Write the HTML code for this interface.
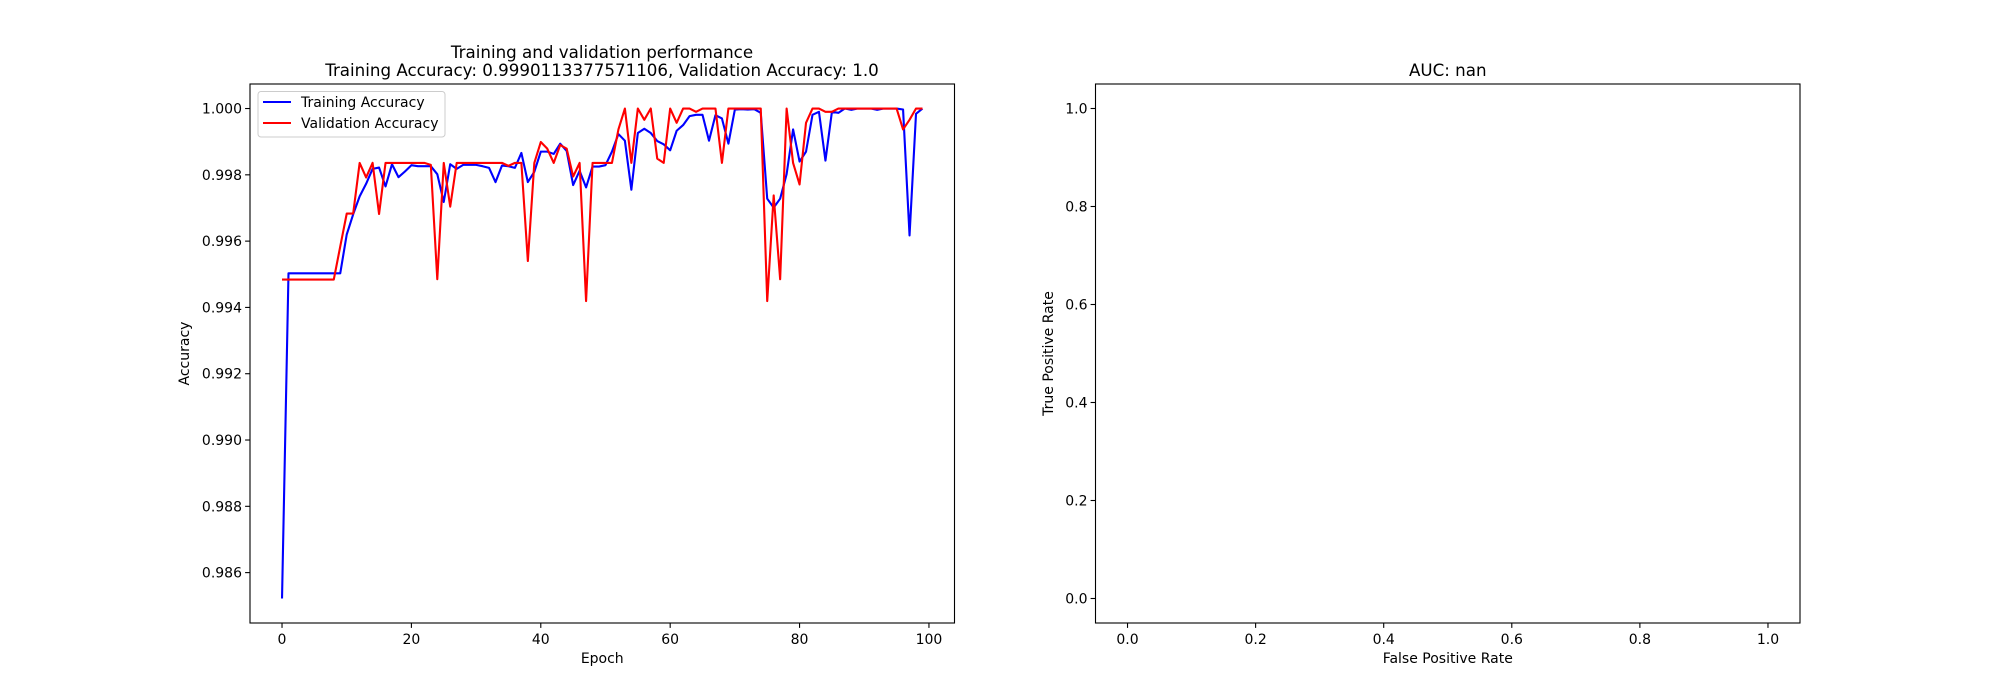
<!DOCTYPE html>
<html><head><meta charset="utf-8"><style>
html,body{margin:0;padding:0;background:#fff;}
svg{display:block;font-family:"DejaVu Sans","Liberation Sans",sans-serif;}
</style></head><body>
<svg id="fig" width="2000" height="700" viewBox="0 0 2000 700" xmlns="http://www.w3.org/2000/svg">
<rect width="2000" height="700" fill="#fff"/>
<g id="ax1"></g>
<g id="ax2"></g>
</svg>
<script>
const epochs = Array.from({length:100},(_,i)=>i);
const trainAcc = [0.98522,0.99503,0.99503,0.99503,0.99503,0.99503,0.99503,0.99503,0.99503,0.99503,
0.9962,0.99681,0.99735,0.99773,0.99818,0.99822,0.99765,0.99832,0.99793,0.9981,
0.99829,0.99826,0.99826,0.99826,0.99802,0.99718,0.99832,0.99818,0.9983,0.9983,
0.9983,0.99826,0.99821,0.99778,0.99828,0.99826,0.99821,0.99866,0.99778,0.99809,
0.9987,0.9987,0.99863,0.99894,0.99872,0.99769,0.99812,0.99762,0.99825,0.99825,
0.99829,0.9987,0.99923,0.99903,0.99755,0.99926,0.99939,0.99926,0.99902,0.99892,
0.99874,0.99933,0.9995,0.99977,0.99981,0.99981,0.99903,0.9998,0.9997,0.99894,
0.99997,0.99998,0.99997,0.99998,0.99987,0.99728,0.99701,0.99728,0.99802,0.99937,
0.9984,0.9987,0.99981,0.9999,0.99843,0.9999,0.99987,1.0,0.99996,1.0,
1.0,1.0,0.99996,1.0,1.0,1.0,0.99997,0.99617,0.99984,1.0];
const valAcc = [0.99484,0.99484,0.99484,0.99484,0.99484,0.99484,0.99484,0.99484,0.99484,0.99584,
0.99683,0.99683,0.99836,0.99792,0.99836,0.99682,0.99836,0.99836,0.99836,0.99836,
0.99836,0.99836,0.99836,0.9983,0.99485,0.99836,0.99704,0.99836,0.99836,0.99836,
0.99836,0.99836,0.99836,0.99836,0.99836,0.99827,0.99836,0.99836,0.9954,0.99836,
0.99899,0.99879,0.99836,0.9989,0.99879,0.99795,0.99836,0.99419,0.99836,0.99836,
0.99836,0.99836,0.99937,1.0,0.99836,1.0,0.99966,1.0,0.99849,0.99836,
1.0,0.99957,1.0,1.0,0.9999,1.0,1.0,1.0,0.99836,1.0,
1.0,1.0,1.0,1.0,1.0,0.99419,0.99738,0.99485,1.0,0.99836,
0.99771,0.99957,1.0,1.0,0.9999,0.9999,1.0,1.0,1.0,1.0,
1.0,1.0,1.0,1.0,1.0,1.0,0.99937,0.99966,1.0,1.0];
const xTicks1 = [0,20,40,60,80,100];
const yTicks1 = [0.986,0.988,0.990,0.992,0.994,0.996,0.998,1.000];
const xTicks2 = [0.0,0.2,0.4,0.6,0.8,1.0];
const yTicks2 = [0.0,0.2,0.4,0.6,0.8,1.0];

const NS="http://www.w3.org/2000/svg";
function mk(parent,tag,attrs,text){const e=document.createElementNS(NS,tag);for(const k in attrs)e.setAttribute(k,attrs[k]);if(text!==undefined)e.textContent=text;parent.appendChild(e);return e;}

function lin(d0,d1,r0,r1){return v=>r0+(v-d0)/(d1-d0)*(r1-r0);}

function drawAxes(g,box,xs,ys,xt,yt,xfmt,yfmt,xlabel,ylabel,ylabX){
  const [L,T,R,B]=box;
  xt.forEach(v=>{const x=xs(v);
    const t=mk(g,'line',{x1:x,y1:B,x2:x,y2:B+4.9,stroke:'#000','stroke-width':1.1});
    
    
    const l=mk(g,'text',{x:x,y:B+21,'font-size':14,'text-anchor':'middle'},xfmt(v));
    
    
  });
  yt.forEach(v=>{const y=ys(v);
    const t=mk(g,'line',{x1:L-4.9,y1:y,x2:L,y2:y,stroke:'#000','stroke-width':1.1});
    
    
    const l=mk(g,'text',{x:L-8,y:y+5,'font-size':14,'text-anchor':'end'},yfmt(v));
    
    
  });
  const xl=mk(g,'text',{x:(L+R)/2,y:B+40,'font-size':14,'text-anchor':'middle'},xlabel);
  
  
  const yl=mk(g,'text',{x:ylabX,y:(T+B)/2,'font-size':14,'text-anchor':'middle',transform:`rotate(-90 ${ylabX} ${(T+B)/2})`},ylabel);
  
  
}

// Axes 1
const g1=document.getElementById('ax1');
const box1=[250,84,954.5,623];
const x1=lin(-4.95,103.95,box1[0],box1[2]);
const y1=lin(0.98448,1.00074,box1[3],box1[1]);
function series(vals,color,name){
  const d=vals.map((v,i)=>(i?'L':'M')+x1(epochs[i]).toFixed(2)+' '+y1(v).toFixed(2)).join(' ');
  const p=mk(g1,'path',{d:d,fill:'none',stroke:color,'stroke-width':2.1,'stroke-linejoin':'round'});
  
  
}
series(trainAcc,'#0000ff','training-accuracy-line');
series(valAcc,'#ff0000','validation-accuracy-line');
const f1=mk(g1,'rect',{x:box1[0],y:box1[1],width:box1[2]-box1[0],height:box1[3]-box1[1],fill:'none',stroke:'#000','stroke-width':1.1});


drawAxes(g1,box1,x1,y1,xTicks1,yTicks1,v=>String(v),v=>v.toFixed(3),'Epoch','Accuracy',189);
const t1=mk(g1,'text',{x:602,y:58,'font-size':16.7,'text-anchor':'middle'},'Training and validation performance');


const t1b=mk(g1,'text',{x:602,y:76,'font-size':16.7,'text-anchor':'middle'},'Training Accuracy: 0.9990113377571106, Validation Accuracy: 1.0');


// legend
const lg=mk(g1,'g',{});


mk(lg,'rect',{x:258,y:91.5,width:187,height:45.5,rx:3,fill:'#fff','fill-opacity':0.8,stroke:'#ccc','stroke-width':1});
const le1=mk(lg,'line',{x1:263,y1:102,x2:291,y2:102,stroke:'#0000ff','stroke-width':2.1});


const lt1=mk(lg,'text',{x:301,y:107,'font-size':14},'Training Accuracy');


const le2=mk(lg,'line',{x1:263,y1:123,x2:291,y2:123,stroke:'#ff0000','stroke-width':2.1});


const lt2=mk(lg,'text',{x:301,y:128,'font-size':14},'Validation Accuracy');



// Axes 2
const g2=document.getElementById('ax2');
const box2=[1095.5,84,1800,623];
const x2=lin(-0.05,1.05,box2[0],box2[2]);
const y2=lin(-0.05,1.05,box2[3],box2[1]);
const f2=mk(g2,'rect',{x:box2[0],y:box2[1],width:box2[2]-box2[0],height:box2[3]-box2[1],fill:'none',stroke:'#000','stroke-width':1.1});


drawAxes(g2,box2,x2,y2,xTicks2,yTicks2,v=>v.toFixed(1),v=>v.toFixed(1),'False Positive Rate','True Positive Rate',1053);
const t2=mk(g2,'text',{x:1447.75,y:76,'font-size':16.7,'text-anchor':'middle'},'AUC: nan');


</script>
</body></html>
